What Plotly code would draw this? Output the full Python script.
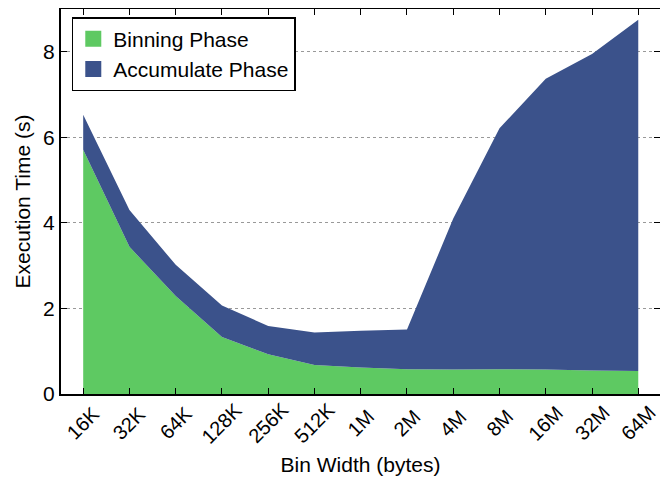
import plotly.graph_objects as go

categories = ["16K", "32K", "64K", "128K", "256K", "512K", "1M", "2M", "4M", "8M", "16M", "32M", "64M"]
binning = [5.71, 3.44, 2.29, 1.33, 0.93, 0.68, 0.62, 0.58, 0.57, 0.58, 0.57, 0.55, 0.54]
accumulate = [0.82, 0.86, 0.73, 0.74, 0.66, 0.76, 0.86, 0.93, 3.53, 5.63, 6.80, 7.40, 8.21]

series_names = ["Binning Phase", "Accumulate Phase"]
series_colors = ["#5ec962", "#3b528b"]

x_idx = list(range(len(categories)))

fig = go.Figure()
for vals, name, col in zip([binning, accumulate], series_names, series_colors):
    fig.add_trace(go.Scatter(
        x=x_idx, y=vals, name=name, stackgroup="one",
        mode="none", fillcolor=col, line=dict(width=0), showlegend=False))
for name, col in zip(series_names, series_colors):
    fig.add_trace(go.Scatter(
        x=[None], y=[None], name=name, mode="markers",
        marker=dict(symbol="square", size=16, color=col)))

# centred, rotated tick labels (matplotlib style)
for i, lab in zip(x_idx, categories):
    fig.add_annotation(
        x=i, y=0, xref="x", yref="paper", text=lab, showarrow=False,
        textangle=-45, xanchor="center", yanchor="middle", yshift=-29,
        font=dict(size=20, color="black"))

fig.update_layout(
    width=660, height=473,
    margin=dict(l=53, r=8, t=1, b=87),
    paper_bgcolor="white", plot_bgcolor="white",
    font=dict(family="Liberation Sans, Arial, sans-serif", size=21, color="black"),
    legend=dict(x=0.018, y=0.979, xanchor="left", yanchor="top",
                bordercolor="black", borderwidth=1.5, bgcolor="white",
                font=dict(size=21), traceorder="normal", itemwidth=30),
    showlegend=True,
)
fig.update_xaxes(
    tickmode="array", tickvals=x_idx, ticktext=categories, showticklabels=False,
    range=[-0.48, 12.47], showline=True, linecolor="black", linewidth=2,
    mirror="ticks", ticks="inside", ticklen=6, tickcolor="black",
    showgrid=False, zeroline=False, automargin=False,
    title=dict(text="Bin Width (bytes)", font=dict(size=21), standoff=62),
)
fig.update_yaxes(
    range=[0, 9.0], tickvals=[0, 2, 4, 6, 8], showline=True, linecolor="black",
    linewidth=2, mirror="ticks", ticks="inside", ticklen=6, tickcolor="black",
    showgrid=True, gridcolor="#999999", griddash="dot", gridwidth=1,
    zeroline=False, automargin=False, tickfont=dict(size=21),
    title=dict(text="Execution Time (s)", font=dict(size=21), standoff=7),
)

fig.write_html("out.html")
